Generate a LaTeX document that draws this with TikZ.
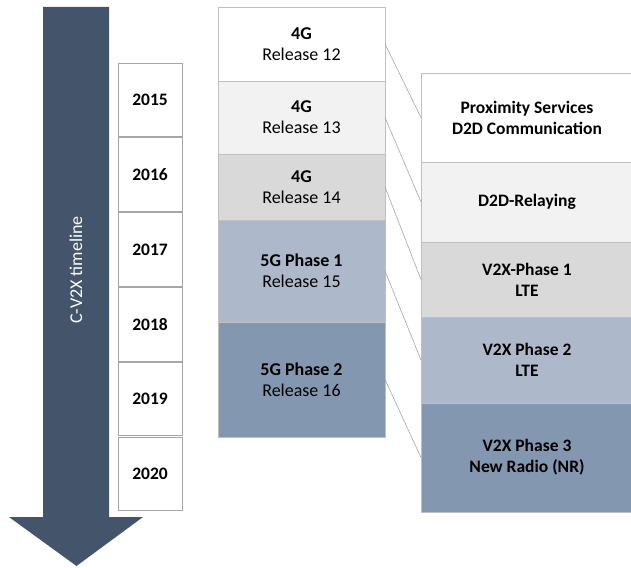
\documentclass[tikz,border=0pt]{standalone}
\usepackage{fontspec}
\setmainfont{Carlito}
\begin{document}
\begin{tikzpicture}[x=1bp,y=-1bp,
  font=\fontsize{18bp}{21bp}\selectfont,
  boldtext/.style={font=\fontsize{17.5bp}{21bp}\selectfont\bfseries},
  colbox/.style={draw=black!25, line width=0.8bp, minimum width=#1, inner sep=0pt, outer sep=0pt, align=center, anchor=north west, text=black},
  yearbox/.style={draw=black!35, line width=0.8bp, fill=white, minimum width=64bp, minimum height=73.5bp, inner sep=0pt, outer sep=0pt, anchor=north west, boldtext},
  conn/.style={draw=black!35, line width=0.6bp}]
\useasboundingbox (0,0) rectangle (631,568);
\definecolor{arrowblue}{HTML}{44546A}
\definecolor{cgrayA}{HTML}{F2F2F2}
\definecolor{cgrayB}{HTML}{D9D9D9}
\definecolor{cblueA}{HTML}{ADB9CA}
\definecolor{cblueB}{HTML}{8497B0}
% arrow
\fill[arrowblue] (43,7) -- (109,7) -- (109,517) -- (143,517) -- (76.5,566) -- (9,517) -- (43,517) -- cycle;
\node[rotate=90, text=white, inner sep=0pt] (arrowlabel) at (76,270) {C-V2X timeline};
% years
\node[yearbox] (y15) at (118,63) {2015};
\node[yearbox] (y16) at (118,137.8) {2016};
\node[yearbox] (y17) at (118,212.6) {2017};
\node[yearbox] (y18) at (118,287.4) {2018};
\node[yearbox] (y19) at (118,362.2) {2019};
\node[yearbox] (y20) at (118,437) {2020};
% middle column
\node[colbox=167bp, minimum height=74bp, fill=white] (r12) at (218,7) {\textbf{4G}\\Release 12};
\node[colbox=167bp, minimum height=73bp, fill=cgrayA] (r13) at (218,81) {\textbf{4G}\\Release 13};
\node[colbox=167bp, minimum height=66bp, fill=cgrayB] (r14) at (218,154) {\textbf{4G}\\Release 14};
\node[colbox=167bp, minimum height=102bp, fill=cblueA] (r15) at (218,220) {\textbf{5G Phase 1}\\Release 15};
\node[colbox=167bp, minimum height=115bp, fill=cblueB] (r16) at (218,322) {\textbf{5G Phase 2}\\Release 16};
% right column
\node[colbox=212bp, minimum height=89bp, fill=white, boldtext] (p1) at (421,73) {Proximity Services\\D2D Communication};
\node[colbox=212bp, minimum height=80bp, fill=cgrayA, boldtext] (p2) at (421,162) {D2D-Relaying};
\node[colbox=212bp, minimum height=75bp, fill=cgrayB, boldtext] (p3) at (421,242) {V2X-Phase 1\\LTE};
\node[colbox=212bp, minimum height=86bp, fill=cblueA, boldtext] (p4) at (421,317) {V2X Phase 2\\LTE};
\node[colbox=212bp, minimum height=109bp, fill=cblueB, boldtext] (p5) at (421,403) {V2X Phase 3\\New Radio (NR)};
% connectors
\draw[conn] (r12.east) -- (p1.west);
\draw[conn] (r13.east) -- (p2.west);
\draw[conn] (r14.east) -- (p3.west);
\draw[conn] (r15.east) -- (p4.west);
\draw[conn] (r16.east) -- (p5.west);
\end{tikzpicture}
\end{document}
